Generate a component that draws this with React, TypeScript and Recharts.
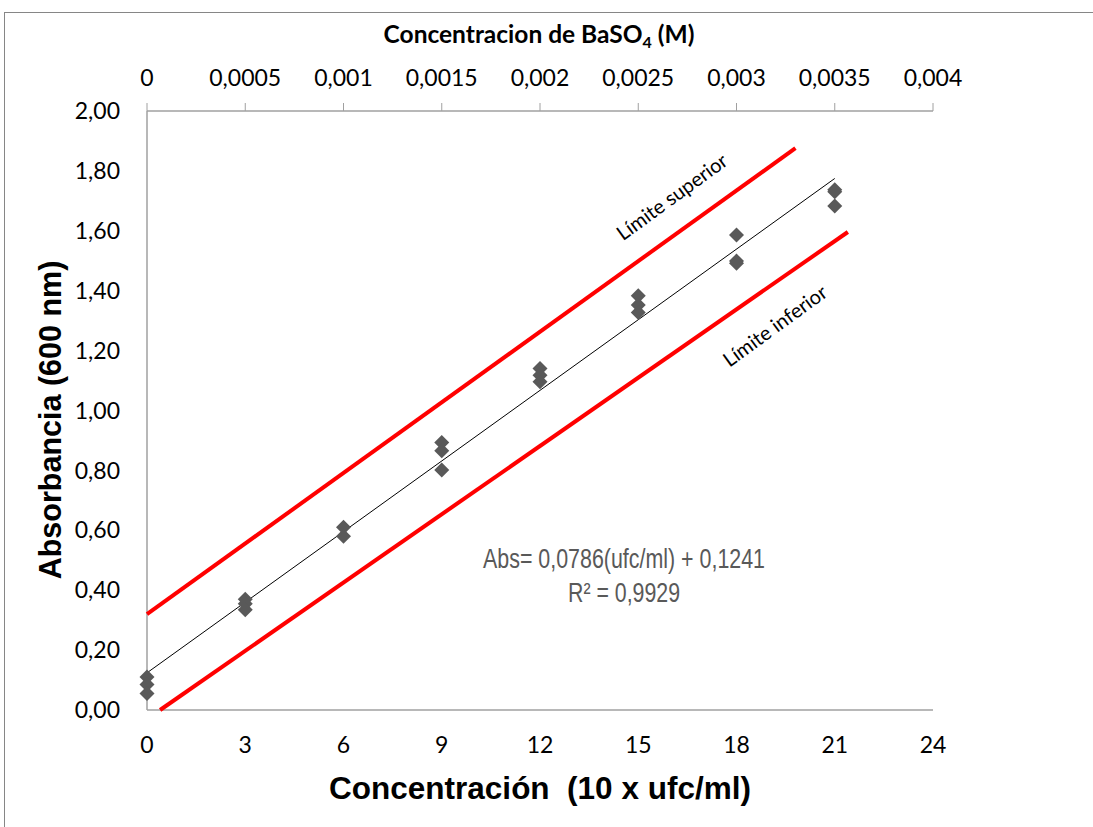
import React from 'react';
import { ComposedChart, Scatter, XAxis, YAxis } from 'recharts';

// Measured absorbance points (x = concentration, 10 x ufc/ml)
const samplePoints = [
  { x: 0, y: 0.11 }, { x: 0, y: 0.085 }, { x: 0, y: 0.055 },
  { x: 3, y: 0.37 }, { x: 3, y: 0.355 }, { x: 3, y: 0.335 },
  { x: 6, y: 0.61 }, { x: 6, y: 0.58 },
  { x: 9, y: 0.893 }, { x: 9, y: 0.866 }, { x: 9, y: 0.801 },
  { x: 12, y: 1.14 }, { x: 12, y: 1.118 }, { x: 12, y: 1.096 },
  { x: 15, y: 1.383 }, { x: 15, y: 1.352 }, { x: 15, y: 1.327 },
  { x: 18, y: 1.586 }, { x: 18, y: 1.499 }, { x: 18, y: 1.492 },
  { x: 21, y: 1.737 }, { x: 21, y: 1.73 }, { x: 21, y: 1.683 },
];

// Regression line Abs = 0.0786 x + 0.1241
const trendLine = [
  { x: 0, y: 0.1241 },
  { x: 21, y: 1.7747 },
];
// Upper / lower limits
const upperLimit = [
  { x: 0, y: 0.32 },
  { x: 19.8, y: 1.876 },
];
const lowerLimit = [
  { x: 0.4, y: 0 },
  { x: 21.4, y: 1.596 },
];

const bottomTicks = [0, 3, 6, 9, 12, 15, 18, 21, 24];
const topTicks = [0, 0.0005, 0.001, 0.0015, 0.002, 0.0025, 0.003, 0.0035, 0.004];
const yTicks = [0, 0.2, 0.4, 0.6, 0.8, 1.0, 1.2, 1.4, 1.6, 1.8, 2.0];

const W = 1093;
const H = 827;
const axisGray = '#a0a0a0';
const tickFont = { fontFamily: 'Lato, "Open Sans", sans-serif', fontSize: 23, fill: '#000' };

const Diamond = (props: any) => {
  const { cx, cy } = props;
  if (cx == null || cy == null) return <g />;
  const r = 7.5;
  return (
    <polygon
      points={`${cx},${cy - r} ${cx + r},${cy} ${cx},${cy + r} ${cx - r},${cy}`}
      fill="#595959"
    />
  );
};

const NoShape = () => <g />;

export default function App() {
  return (
    <div style={{ position: 'absolute', left: 0, top: 0, width: W, height: H, overflow: 'hidden', background: '#fff' }}>
      <div style={{ position: 'absolute', left: 4, top: 12, width: W + 20, height: H + 20, border: '1px solid #868686' }} />
      <div style={{ position: 'absolute', left: 0, top: 0 }}>
        <ComposedChart width={W} height={H} margin={{ top: 71, right: 160, bottom: 77, left: 87 }}>
          <XAxis
            xAxisId="bottom"
            dataKey="x"
            type="number"
            domain={[0, 24]}
            ticks={bottomTicks}
            height={40}
            tickLine={false}
            tickSize={0}
            tickMargin={27}
            axisLine={{ stroke: axisGray, strokeWidth: 1.5 }}
            tick={tickFont}
          />
          <XAxis
            xAxisId="top"
            orientation="top"
            dataKey="x"
            type="number"
            domain={[0, 0.004]}
            ticks={topTicks}
            height={40}
            tickSize={8}
            tickMargin={17}
            tickLine={{ stroke: axisGray }}
            axisLine={{ stroke: axisGray, strokeWidth: 1.5 }}
            tick={tickFont}
            tickFormatter={(v: number) => String(v).replace('.', ',')}
            allowDataOverflow
          />
          <YAxis
            yAxisId="left"
            dataKey="y"
            type="number"
            domain={[0, 2]}
            ticks={yTicks}
            width={60}
            tickLine={false}
            tickSize={0}
            tickMargin={27}
            axisLine={{ stroke: axisGray, strokeWidth: 1.5 }}
            tick={tickFont}
            tickFormatter={(v: number) => v.toFixed(2).replace('.', ',')}
          />
          <Scatter
            xAxisId="bottom"
            yAxisId="left"
            data={upperLimit}
            line={{ stroke: '#ff0000', strokeWidth: 4 }}
            shape={NoShape}
            isAnimationActive={false}
          />
          <Scatter
            xAxisId="bottom"
            yAxisId="left"
            data={lowerLimit}
            line={{ stroke: '#ff0000', strokeWidth: 4 }}
            shape={NoShape}
            isAnimationActive={false}
          />
          <Scatter
            xAxisId="bottom"
            yAxisId="left"
            data={trendLine}
            line={{ stroke: '#000000', strokeWidth: 1 }}
            shape={NoShape}
            isAnimationActive={false}
          />
          <Scatter
            xAxisId="bottom"
            yAxisId="left"
            data={samplePoints}
            shape={Diamond}
            isAnimationActive={false}
          />
        </ComposedChart>
      </div>
      <svg width={W} height={H} style={{ position: 'absolute', left: 0, top: 0, pointerEvents: 'none' }}>
        <text x={539} y={43} textAnchor="middle" fontFamily='Lato, "Open Sans", sans-serif' fontWeight="bold" fontSize={24.5} fill="#000">
          Concentracion de BaSO<tspan fontSize={16} dy={5}>4</tspan><tspan dy={-5}> (M)</tspan>
        </text>
        <text
          transform="translate(61,420) rotate(-90)"
          textAnchor="middle"
          fontFamily='"Liberation Sans", Arial, sans-serif'
          fontWeight="bold"
          fontSize={30.5}
          fill="#000"
        >
          Absorbancia (600 nm)
        </text>
        <text x={540} y={799} textAnchor="middle" fontFamily='"Liberation Sans", Arial, sans-serif' fontWeight="bold" fontSize={31.5} fill="#000" style={{ whiteSpace: 'pre' }}>
          {'Concentración  (10 x ufc/ml)'}
        </text>
        <text
          x={624}
          y={568}
          textAnchor="middle"
          fontFamily='"Liberation Sans Narrow", "Liberation Sans", Arial, sans-serif'
          fontSize={28}
          fill="#595959"
          textLength={282}
          lengthAdjust="spacingAndGlyphs"
        >
          Abs= 0,0786(ufc/ml) + 0,1241
        </text>
        <text
          x={624}
          y={602}
          textAnchor="middle"
          fontFamily='"Liberation Sans Narrow", "Liberation Sans", Arial, sans-serif'
          fontSize={28}
          fill="#595959"
          textLength={112}
          lengthAdjust="spacingAndGlyphs"
        >
          R² = 0,9929
        </text>
        <text transform="translate(672,197) rotate(-36)" y={7} textAnchor="middle" fontFamily='Lato, "Open Sans", sans-serif' fontSize={20} fill="#000">
          Límite superior
        </text>
        <text transform="translate(775,326) rotate(-36)" y={7} textAnchor="middle" fontFamily='Lato, "Open Sans", sans-serif' fontSize={20} fill="#000">
          Límite inferior
        </text>
      </svg>
    </div>
  );
}
